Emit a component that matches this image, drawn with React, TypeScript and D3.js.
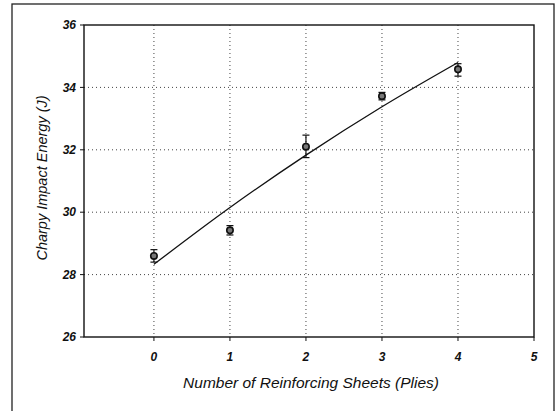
import React from "react";
import * as d3 from "d3";

const plies = [0, 1, 2, 3, 4];
const energy = [28.6, 29.42, 32.1, 33.72, 34.58];
const errLow = [0.2, 0.15, 0.35, 0.12, 0.22];
const errHigh = [0.2, 0.15, 0.37, 0.12, 0.18];
const fitX = [0, 1, 2, 3, 4];
const fitY = [28.33, 30.15, 31.83, 33.38, 34.8];
const yTicks = [26, 28, 30, 32, 34, 36];
const xTicks = [0, 1, 2, 3, 4, 5];
const yGrid = [28, 30, 32, 34];
const xGrid = [0, 1, 2, 3, 4];

export default function App() {
  const W = 560, H = 411;
  const left = 84, right = 534, top = 25, bottom = 337;
  const x = d3.scaleLinear().domain([-0.92, 5]).range([left, right]);
  const y = d3.scaleLinear().domain([26, 36]).range([bottom, top]);
  const line = d3
    .line<number>()
    .x((_, i) => x(fitX[i]))
    .y((d) => y(d))
    .curve(d3.curveMonotoneX);
  const font = "Arial, 'Liberation Sans', sans-serif";
  return (
    <svg
      width={W}
      height={H}
      style={{ position: "absolute", left: 0, top: 0, background: "#fff" }}
    >
      {/* outer frame */}
      <rect x={12} y={4} width={542} height={420} fill="none" stroke="#222" strokeWidth={1.3} />
      {/* grid */}
      {yGrid.map((v) => (
        <line key={"gy" + v} x1={left} x2={right} y1={y(v)} y2={y(v)} stroke="#444" strokeWidth={1} strokeDasharray="1,3" />
      ))}
      {xGrid.map((v) => (
        <line key={"gx" + v} x1={x(v)} x2={x(v)} y1={top} y2={bottom} stroke="#444" strokeWidth={1} strokeDasharray="1,3" />
      ))}
      {/* plot border */}
      <rect x={left} y={top} width={right - left} height={bottom - top} fill="none" stroke="#111" strokeWidth={1.4} />
      {/* y ticks */}
      {yTicks.map((v) => (
        <g key={"yt" + v}>
          <line x1={left - 4} x2={left} y1={y(v)} y2={y(v)} stroke="#111" />
          <text x={left - 8} y={y(v)} dy="0.35em" textAnchor="end" fontFamily={font} fontSize={12} fontStyle="italic" fontWeight="bold" fill="#111">
            {v}
          </text>
        </g>
      ))}
      {/* x ticks */}
      {xTicks.map((v) => (
        <g key={"xt" + v}>
          <line x1={x(v)} x2={x(v)} y1={bottom} y2={bottom + 4} stroke="#111" />
          <text x={x(v)} y={bottom + 24} textAnchor="middle" fontFamily={font} fontSize={12} fontStyle="italic" fontWeight="bold" fill="#111">
            {v}
          </text>
        </g>
      ))}
      {/* fit line */}
      <path d={line(fitY) || ""} fill="none" stroke="#111" strokeWidth={1.3} />
      {/* error bars and markers */}
      {plies.map((p, i) => {
        const cx = x(p);
        const y1 = y(energy[i] + errHigh[i]);
        const y2 = y(energy[i] - errLow[i]);
        return (
          <g key={"pt" + p}>
            <line x1={cx} x2={cx} y1={y1} y2={y2} stroke="#111" strokeWidth={1.2} />
            <line x1={cx - 3.5} x2={cx + 3.5} y1={y1} y2={y1} stroke="#111" strokeWidth={1.2} />
            <line x1={cx - 3.5} x2={cx + 3.5} y1={y2} y2={y2} stroke="#111" strokeWidth={1.2} />
            <circle cx={cx} cy={y(energy[i])} r={3.2} fill="#777" stroke="#111" strokeWidth={1.6} />
          </g>
        );
      })}
      {/* axis titles */}
      <text x={311} y={388} textAnchor="middle" fontFamily={font} fontSize={15.5} fontStyle="italic" fill="#111">
        Number of Reinforcing Sheets (Plies)
      </text>
      <text
        transform={`translate(47, 178) rotate(-90)`}
        textAnchor="middle"
        fontFamily={font}
        fontSize={14.5}
        fontStyle="italic"
        fill="#111"
      >
        Charpy Impact Energy (J)
      </text>
    </svg>
  );
}
